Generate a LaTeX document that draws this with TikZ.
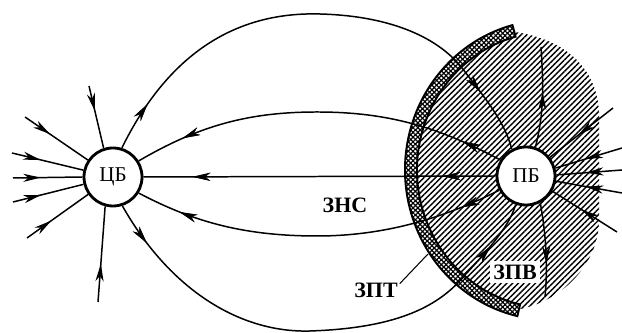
\documentclass[tikz,border=0pt]{standalone}
\usepackage{fontspec}
\setmainfont{Liberation Serif}
\usetikzlibrary{arrows.meta,decorations.markings,patterns.meta,calc}

% outline of the cross-hatched band (ZPT)
\newcommand{\bandpath}{(550,170) ++(255:145 and 150)
  arc[start angle=255, end angle=103, x radius=145, y radius=150]
  -- ($(550,170)+(103:133 and 138)$)
  arc[start angle=103, end angle=255, x radius=133, y radius=138] -- cycle}

\begin{document}
\begin{tikzpicture}[
  x=0.02cm, y=-0.02cm,
  basin/.style={circle, draw, line width=1.6pt, fill=white,
                minimum size=1.16cm, inner sep=0pt,
                font=\fontsize{12}{12}\selectfont},
  fline/.style={line width=0.85pt},
  dart/.style={postaction=decorate, decoration={markings,
               mark=at position #1 with
               {\arrow{Stealth[length=10pt,width=4.6pt,inset=3pt]}}}},
  zone/.style={font=\bfseries\fontsize{12.5}{12.5}\selectfont, inner sep=1pt},
]
\useasboundingbox (0,0) rectangle (622,333);

% hatched zone
\path[fill=white, pattern={Lines[angle=45,distance=2.3pt,line width=0.8pt]}]
  (550,170) ++(255:138 and 143)
  arc[start angle=255, end angle=103, x radius=138, y radius=143]
  .. controls (565,300) and (598,262) .. (599,222) -- (599,112)
  .. controls (597,72) and (570,40) .. cycle;

% cross-hatched band
\fill[white] \bandpath;
\path[pattern={Lines[angle=45,distance=1.9pt,line width=0.7pt]}] \bandpath;
\path[pattern={Lines[angle=-45,distance=1.9pt,line width=0.7pt]}] \bandpath;
\draw[line width=1.1pt] \bandpath;

\node[basin] (cb) at (113,177) {ЦБ};
\node[basin] (pb) at (526,176) {ПБ};

% free ends round the basins
\coordinate (c1) at (25,117);
\coordinate (c2) at (12,153);
\coordinate (c3) at (13,178);
\coordinate (c4) at (13,202);
\coordinate (c5) at (27,238);
\coordinate (c6) at (89,86);
\coordinate (c7) at (98,302);
\coordinate (p1) at (541,47);
\coordinate (p2) at (613,108);
\coordinate (p3) at (622,148);
\coordinate (p4) at (622,170);
\coordinate (p5) at (622,193);
\coordinate (p6) at (617,232);
\coordinate (p7) at (545,297);

% lines into the left basin
\foreach \c/\a in {c1/146, c2/167, c3/180, c4/194, c5/215, c6/108, c7/255}
  \draw[fline, dart=0.4] (\c) -- (cb.\a);

% lines between the basins
\draw[fline, dart=0.1, dart=0.87] (cb.73) .. controls (175,40) and (250,12) .. (320,14)
  .. controls (395,16) and (440,40) .. (462,68)
  .. controls (485,98) and (505,122) .. (pb.118);
\draw[fline, dart=0.11, dart=0.87] (pb.148) .. controls (440,128) and (390,112) .. (317,112)
  .. controls (250,112) and (200,125) .. (cb.32);
\draw[fline, dart=0.15, dart=0.86] (pb.west) -- (cb.east);
\draw[fline, dart=0.11, dart=0.88] (pb.208) .. controls (450,215) and (390,236) .. (317,236)
  .. controls (240,236) and (190,220) .. (cb.-32);
\draw[fline, dart=0.09, dart=0.9] (cb.-72) .. controls (170,290) and (240,333) .. (310,331)
  .. controls (400,328) and (440,305) .. (465,275)
  .. controls (490,248) and (510,225) .. (pb.250);

% lines of the right basin
\draw[fline, dart=0.55] (pb.72) .. controls (545,110) and (543,80) .. (p1);
\draw[fline, dart=0.65] (pb.-62) .. controls (546,235) and (548,265) .. (p7);
\foreach \c/\a in {p2/38, p3/15, p4/2, p5/-10, p6/-30}
  \draw[fline, dart=0.55] (\c) -- (pb.\a);

% zone labels
\node[zone] (zns) at (345,205) {ЗНС};
\node[zone] (zpt) at (376,290) {ЗПТ};
\coordinate (zpttip) at (428,254);
\draw[line width=0.6pt] (zpt.15) -- (zpttip);
\node[zone, fill=white, inner sep=2pt] (zpv) at (515,272) {ЗПВ};
\end{tikzpicture}
\end{document}
